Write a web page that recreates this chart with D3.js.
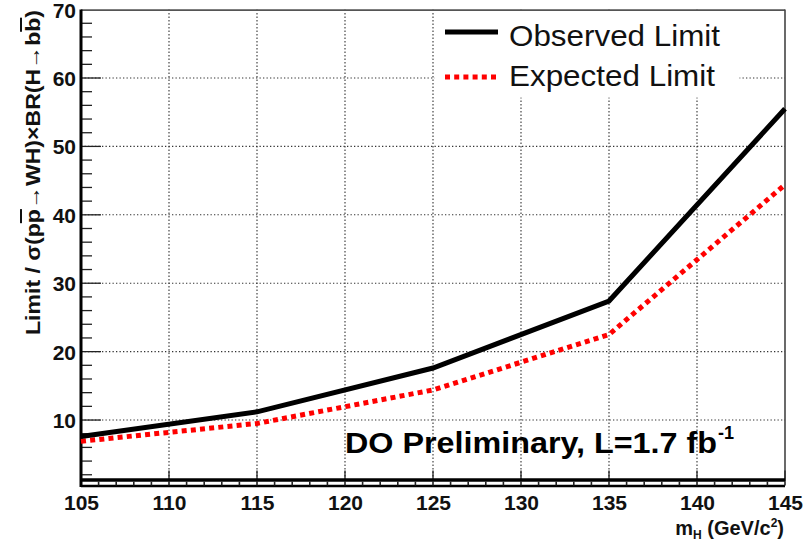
<!DOCTYPE html>
<html><head><meta charset="utf-8">
<script src="https://cdn.jsdelivr.net/npm/d3@7"></script>
<style>
body{margin:0;background:#fff;}
svg{display:block;font-family:"Liberation Sans",Arial,sans-serif;}
</style></head>
<body><svg id="c" width="812" height="543"></svg>
<script>
const massPoints = [105, 115, 125, 135, 145];
const observedLimit = [7.6, 11.2, 17.6, 27.4, 55.5];
const expectedLimit = [6.9, 9.5, 14.4, 22.5, 44.4];
const xTickLabels = [105, 110, 115, 120, 125, 130, 135, 140, 145];
const yTickLabels = [10, 20, 30, 40, 50, 60, 70];
const legendLabels = ["Observed Limit", "Expected Limit"];

const svg = d3.select("#c");
const L = 81, R = 785, T = 9.6, B = 481.6;
const x = d3.scaleLinear().domain([105, 145]).range([L, R]);
const y = d3.scaleLinear().domain([1, 70]).range([B, T]);

// grid (dotted)
const grid = svg.append("g");
grid.selectAll("line.gx").data(xTickLabels.slice(1, -1)).join("line")
  .attr("x1", d => x(d)).attr("x2", d => x(d)).attr("y1", T).attr("y2", B)
  .attr("stroke", "#333").attr("stroke-width", 1.1).attr("stroke-dasharray", "1.3,2.2");
grid.selectAll("line.gy").data(yTickLabels.slice(0, -1)).join("line")
  .attr("x1", L).attr("x2", R).attr("y1", d => y(d)).attr("y2", d => y(d))
  .attr("stroke", "#333").attr("stroke-width", 1.1).attr("stroke-dasharray", "1.3,2.2");

// legend box (covers grid)
svg.append("rect").attr("x", 434.5).attr("y", T + 1).attr("width", 305).attr("height", 87).attr("fill", "#fff");

// frame top & right
svg.append("line").attr("x1", L).attr("x2", R).attr("y1", T + 0.5).attr("y2", T + 0.5)
  .attr("stroke", "#555").attr("stroke-width", 1.6);
svg.append("line").attr("x1", R).attr("x2", R).attr("y1", T).attr("y2", B)
  .attr("stroke", "#444").attr("stroke-width", 1.6);

// y ticks
const yMinor = d3.range(2, 70, 2);
svg.append("g").selectAll("line").data(yMinor).join("line")
  .attr("x1", L).attr("x2", d => L + (d % 10 === 0 ? 20 : 11))
  .attr("y1", d => y(d)).attr("y2", d => y(d))
  .attr("stroke", "#222").attr("stroke-width", 1.3);

// x major ticks
svg.append("g").selectAll("line").data(xTickLabels).join("line")
  .attr("x1", d => x(d)).attr("x2", d => x(d)).attr("y1", B - 11).attr("y2", B)
  .attr("stroke", "#222").attr("stroke-width", 1.3);

// bottom double line with minor ticks between
svg.append("line").attr("x1", L).attr("x2", R).attr("y1", B - 1.5).attr("y2", B - 1.5)
  .attr("stroke", "#000").attr("stroke-width", 3.5);
svg.append("line").attr("x1", L).attr("x2", R).attr("y1", B + 4.5).attr("y2", B + 4.5)
  .attr("stroke", "#000").attr("stroke-width", 2.5);
svg.append("g").selectAll("line").data(d3.range(105, 146, 1)).join("line")
  .attr("x1", d => x(d)).attr("x2", d => x(d)).attr("y1", B).attr("y2", B + 4)
  .attr("stroke", "#222").attr("stroke-width", 1.6);
// left axis line
svg.append("line").attr("x1", L).attr("x2", L).attr("y1", T).attr("y2", B + 5.5)
  .attr("stroke", "#000").attr("stroke-width", 3);

// tick labels via d3 axes
const xAxis = d3.axisBottom(x).tickValues(xTickLabels).tickSize(0).tickPadding(0).tickFormat(d3.format("d"));
const gx = svg.append("g").attr("transform", `translate(0,${B + 9})`).call(xAxis);
gx.select(".domain").remove();
gx.selectAll("text").attr("font-size", 21).attr("font-weight", "bold").attr("fill", "#111")
  .attr("font-family", "Liberation Sans, Arial, sans-serif").attr("dy", "0.93em");

const yAxis = d3.axisLeft(y).tickValues(yTickLabels).tickSize(0).tickPadding(0).tickFormat(d3.format("d"));
const gy = svg.append("g").attr("transform", `translate(${L - 5},0)`).call(yAxis);
gy.select(".domain").remove();
gy.selectAll("text").attr("font-size", 21).attr("font-weight", "bold").attr("fill", "#111")
  .attr("font-family", "Liberation Sans, Arial, sans-serif").attr("dy", "0.36em");

// data lines
const line = d3.line().x((d, i) => x(massPoints[i])).y(d => y(d));
svg.append("path").datum(expectedLimit).attr("d", line).attr("fill", "none")
  .attr("stroke", "#ff0000").attr("stroke-width", 5).attr("stroke-dasharray", "5,4.2");
svg.append("path").datum(observedLimit).attr("d", line).attr("fill", "none")
  .attr("stroke", "#000").attr("stroke-width", 5).attr("stroke-linejoin", "miter");

// legend
const leg = svg.append("g");
leg.append("line").attr("x1", 445).attr("x2", 498).attr("y1", 32).attr("y2", 32)
  .attr("stroke", "#000").attr("stroke-width", 5);
leg.append("line").attr("x1", 445).attr("x2", 498).attr("y1", 77).attr("y2", 77)
  .attr("stroke", "#ff0000").attr("stroke-width", 5).attr("stroke-dasharray", "5,4.2");
leg.append("text").attr("x", 509).attr("y", 46).attr("font-size", 30).attr("fill", "#111")
  .attr("textLength", 211).attr("lengthAdjust", "spacingAndGlyphs").text(legendLabels[0]);
leg.append("text").attr("x", 509).attr("y", 86).attr("font-size", 30).attr("fill", "#111")
  .attr("textLength", 206).attr("lengthAdjust", "spacingAndGlyphs").text(legendLabels[1]);

// annotation
svg.append("text").attr("x", 345).attr("y", 453).attr("font-size", 29)
  .attr("font-weight", "bold").attr("fill", "#000")
  .attr("textLength", 372).attr("lengthAdjust", "spacingAndGlyphs")
  .text("DO Preliminary, L=1.7 fb");
svg.append("text").attr("x", 718).attr("y", 439).attr("font-size", 18)
  .attr("font-weight", "bold").attr("fill", "#000").text("-1");

// x title
const xt = svg.append("text").attr("x", 784).attr("y", 535).attr("text-anchor", "end")
  .attr("font-size", 20).attr("font-weight", "bold").attr("fill", "#111");
xt.append("tspan").text("m");
xt.append("tspan").attr("font-size", 12).attr("dy", 4).text("H");
xt.append("tspan").attr("dy", -4).text(" (GeV/c");
xt.append("tspan").attr("font-size", 12).attr("dy", -8).text("2");
xt.append("tspan").attr("dy", 8).text(")");

// y title
const yt = svg.append("text").attr("transform", "translate(40,10) rotate(-90)")
  .attr("text-anchor", "end").attr("font-size", 20).attr("font-weight", "bold").attr("fill", "#111")
  .attr("textLength", 325).attr("lengthAdjust", "spacingAndGlyphs");
yt.append("tspan").text("Limit / σ(p");
yt.append("tspan").style("text-decoration", "overline").text("p");
yt.append("tspan").text("→WH)×BR(H→b");
yt.append("tspan").style("text-decoration", "overline").text("b");
yt.append("tspan").text(")");
</script></body></html>
